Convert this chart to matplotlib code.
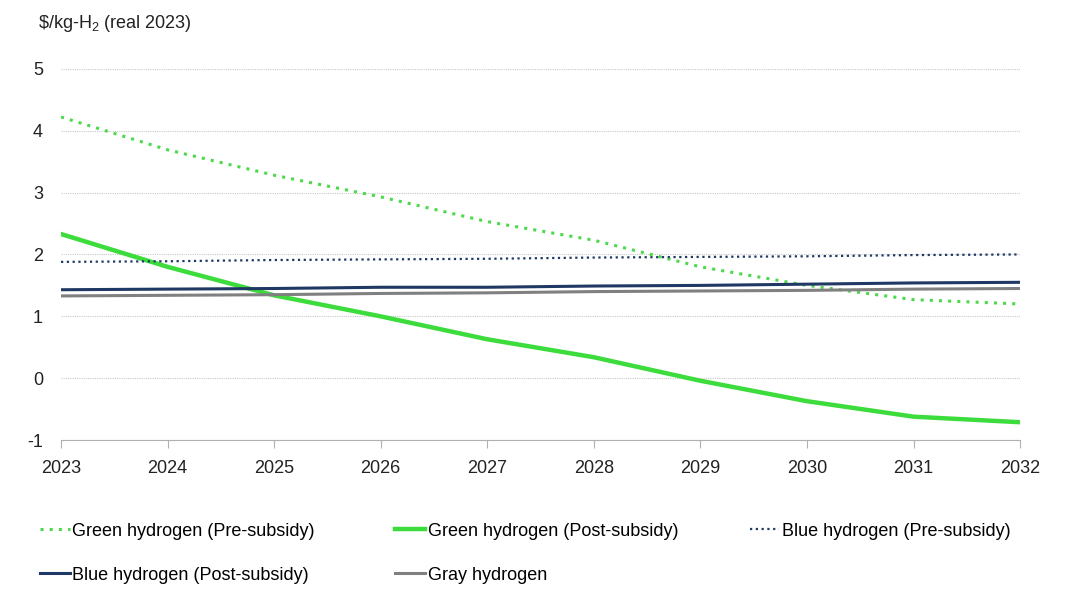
import numpy as np
import matplotlib.pyplot as plt

plt.rcParams['font.family'] = ['Liberation Sans', 'DejaVu Sans']
plt.rcParams['axes.unicode_minus'] = False
plt.rcParams['mathtext.fontset'] = 'custom'
plt.rcParams['mathtext.rm'] = 'Liberation Sans'

years = [2023, 2024, 2025, 2026, 2027, 2028, 2029, 2030, 2031, 2032]
green_pre = [4.22, 3.69, 3.28, 2.93, 2.53, 2.23, 1.80, 1.50, 1.27, 1.20]
green_post = [2.33, 1.80, 1.34, 1.00, 0.63, 0.34, -0.04, -0.37, -0.62, -0.71]
blue_pre = [1.88, 1.89, 1.91, 1.92, 1.93, 1.95, 1.96, 1.97, 1.99, 2.00]
blue_post = [1.43, 1.44, 1.45, 1.47, 1.47, 1.49, 1.50, 1.52, 1.54, 1.55]
gray = [1.33, 1.34, 1.35, 1.37, 1.38, 1.40, 1.41, 1.42, 1.44, 1.45]

fig = plt.figure(figsize=(10.8, 6.08), dpi=100)
ax = fig.add_axes([0.0565, 0.276, 0.888, 0.611])

l1, = ax.plot(years, green_pre, color='#4cd94c', lw=2.2, ls=(0, (1, 2.0)),
              label='Green hydrogen (Pre-subsidy)')
l2, = ax.plot(years, green_post, color='#3ddc3d', lw=3.2,
              label='Green hydrogen (Post-subsidy)')
l3, = ax.plot(years, blue_pre, color='#1f3864', lw=1.6, ls=(0, (1, 1.6)),
              label='Blue hydrogen (Pre-subsidy)')
l4, = ax.plot(years, blue_post, color='#1f3864', lw=2.2,
              label='Blue hydrogen (Post-subsidy)')
l5, = ax.plot(years, gray, color='#808080', lw=2.2, label='Gray hydrogen')

ax.set_xlim(2023, 2032)
ax.set_ylim(-1, 5)
ax.set_xticks(years)
ax.set_yticks(range(-1, 6))
ax.grid(axis='y', color='#c8c8c8', lw=0.8, ls=(0, (1, 1)))
ax.set_axisbelow(True)
for s in ['top', 'right', 'left']:
    ax.spines[s].set_visible(False)
ax.spines['bottom'].set_color('#b0b0b0')
ax.tick_params(axis='x', direction='out', length=6, color='#b0b0b0',
               labelsize=13, pad=8, labelcolor='#222222')
ax.tick_params(axis='y', length=0, labelsize=13, pad=13, labelcolor='#222222')

fig.text(0.035, 0.962, r'\$/kg-H$_2$ (real 2023)', fontsize=13, color='#222222',
         va='center')

# one legend per column so the columns sit where the reference has them
cols = [([l1, l4], 0.037), ([l2, l5], 0.366), ([l3], 0.694)]
for hs, x0 in cols:
    fig.legend(handles=hs, loc='upper left', bbox_to_anchor=(x0, 0.1405),
               frameon=False, fontsize=13, handlelength=1.65,
               handletextpad=0.15, labelspacing=1.5, borderpad=0,
               borderaxespad=0)

fig.savefig('out.png', dpi=100)
